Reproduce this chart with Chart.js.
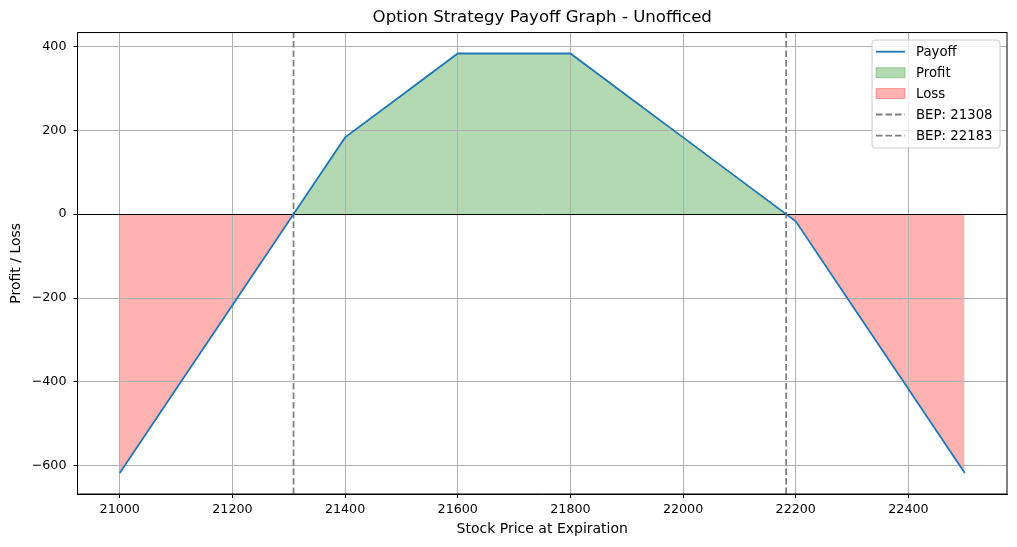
<!DOCTYPE html>
<html>
<head>
<meta charset="utf-8">
<script src="https://cdn.jsdelivr.net/npm/chart.js@4/dist/chart.umd.min.js"></script>
<style>
  body { margin: 0; background: #fff; }
  #wrap { width: 1017px; height: 547px; }
</style>
</head>
<body>
<div id="wrap"><canvas id="chart"></canvas></div>
<script>
    // Данные графика
    const prices = [21000, 21100, 21200, 21300, 21400, 21500, 21600, 21700, 21800, 21900, 22000, 22100, 22200, 22300, 22400, 22500];
    const payoff = [-617, -417, -217, -17, 183, 283, 383, 383, 383, 283, 183, 83, -17, -217, -417, -617];
    const bepPoints = [21308.5, 22183];
    const bepLabels = ['BEP: 21308', 'BEP: 22183'];
    const legendLabels = ['Payoff', 'Profit', 'Loss'];

    const X_MIN = 20925, X_MAX = 22575;
    const Y_MIN = -667, Y_MAX = 433;
    const FONT = 'DejaVu Sans';
    const DASH = [6.5, 3];

    const fmt = v => (v < 0 ? '\u2212' + Math.abs(v) : String(v));

    // Рамка осей и легенда
    const framePlugin = {
        id: 'frame',
        afterDraw(chart) {
            const { ctx, chartArea: a } = chart;
            ctx.save();
            ctx.strokeStyle = '#000';
            ctx.lineWidth = 1;
            ctx.strokeRect(a.left, a.top, a.right - a.left, a.bottom - a.top);

            // легенда
            const bx = 872, by = 40, bw = 128, bh = 108;
            ctx.fillStyle = 'rgba(255,255,255,0.8)';
            ctx.strokeStyle = '#cccccc';
            ctx.beginPath();
            ctx.roundRect(bx, by, bw, bh, 3);
            ctx.fill();
            ctx.stroke();

            const rows = [51.7, 72.7, 93.5, 114.5, 135.7];
            const hx = 876, hw = 29;
            ctx.font = '13.3px ' + FONT;
            ctx.textBaseline = 'middle';

            // Payoff
            ctx.strokeStyle = '#1f77b4';
            ctx.lineWidth = 1.8;
            ctx.beginPath(); ctx.moveTo(hx, rows[0]); ctx.lineTo(hx + hw, rows[0]); ctx.stroke();
            // Profit / Loss
            const patches = ['rgba(0,128,0,0.3)', 'rgba(255,0,0,0.3)'];
            patches.forEach((p, i) => {
                const y = rows[i + 1];
                ctx.fillStyle = p;
                ctx.fillRect(hx, y - 5, hw, 10);
                ctx.strokeStyle = p;
                ctx.lineWidth = 1;
                ctx.strokeRect(hx, y - 5, hw, 10);
            });
            // BEP
            ctx.strokeStyle = '#808080';
            ctx.lineWidth = 1.8;
            ctx.setLineDash(DASH);
            [3, 4].forEach(r => {
                ctx.beginPath(); ctx.moveTo(hx, rows[r]); ctx.lineTo(hx + hw, rows[r]); ctx.stroke();
            });
            ctx.setLineDash([]);

            ctx.fillStyle = '#000';
            legendLabels.concat(bepLabels).forEach((t, i) => ctx.fillText(t, 916, rows[i] + 1));
            ctx.restore();
        }
    };

    const datasets = [
        {
            label: 'Payoff',
            data: prices.map((p, i) => ({ x: p, y: payoff[i] })),
            borderColor: '#1f77b4',
            borderWidth: 1.8,
            pointRadius: 0,
            tension: 0,
            fill: {
                target: { value: 0 },
                above: 'rgba(0, 128, 0, 0.3)',
                below: 'rgba(255, 0, 0, 0.3)'
            }
        }
    ];
    bepPoints.forEach((b, i) => {
        datasets.push({
            label: bepLabels[i],
            data: [{ x: b, y: Y_MIN }, { x: b, y: Y_MAX }],
            borderColor: '#808080',
            borderWidth: 1.8,
            borderDash: DASH,
            pointRadius: 0,
            fill: false
        });
    });

    const chart = document.getElementById('chart');
    new Chart(chart, {
        type: 'line',
        data: { datasets },
        plugins: [framePlugin],
        options: {
            responsive: true,
            maintainAspectRatio: false,
            animation: false,
            layout: { padding: { left: 0, right: 10, top: 0, bottom: 0 } },
            plugins: {
                legend: { display: false },
                tooltip: { enabled: false },
                filler: { drawTime: 'beforeDraw' },
                title: {
                    display: true,
                    text: 'Option Strategy Payoff Graph - Unofficed',
                    fullSize: false,
                    color: '#000',
                    font: { family: FONT, size: 16.6, weight: 'normal', lineHeight: 1.2 },
                    padding: { top: 8, bottom: 4.6 }
                }
            },
            scales: {
                x: {
                    type: 'linear',
                    min: X_MIN,
                    max: X_MAX,
                    afterFit: s => { s.height = 53; },
                    ticks: {
                        stepSize: 200,
                        includeBounds: false,
                        color: '#000',
                        padding: 4,
                        maxRotation: 0,
                        font: { family: FONT, size: 12.7 },
                        callback: v => fmt(v)
                    },
                    grid: { color: '#b0b0b0', lineWidth: 1, tickLength: 4, tickColor: '#000' },
                    border: { display: true, color: '#000', width: 1 },
                    title: {
                        display: true,
                        text: 'Stock Price at Expiration',
                        color: '#000',
                        font: { family: FONT, size: 14 },
                        padding: { top: 0, bottom: 9.6 }
                    }
                },
                y: {
                    min: Y_MIN,
                    max: Y_MAX,
                    afterFit: s => { s.width = 77.5; },
                    ticks: {
                        stepSize: 200,
                        includeBounds: false,
                        color: '#000',
                        padding: 7,
                        font: { family: FONT, size: 12.7 },
                        callback: v => fmt(v)
                    },
                    grid: {
                        color: c => (c.tick && c.tick.value === 0 ? '#000' : '#b0b0b0'),
                        lineWidth: 1,
                        tickLength: 4,
                        tickColor: '#000'
                    },
                    border: { display: true, color: '#000', width: 1 },
                    title: {
                        display: true,
                        text: 'Profit / Loss',
                        color: '#000',
                        font: { family: FONT, size: 14 },
                        padding: { top: 7.5, bottom: 0 }
                    }
                }
            }
        }
    });
</script>
</body>
</html>
